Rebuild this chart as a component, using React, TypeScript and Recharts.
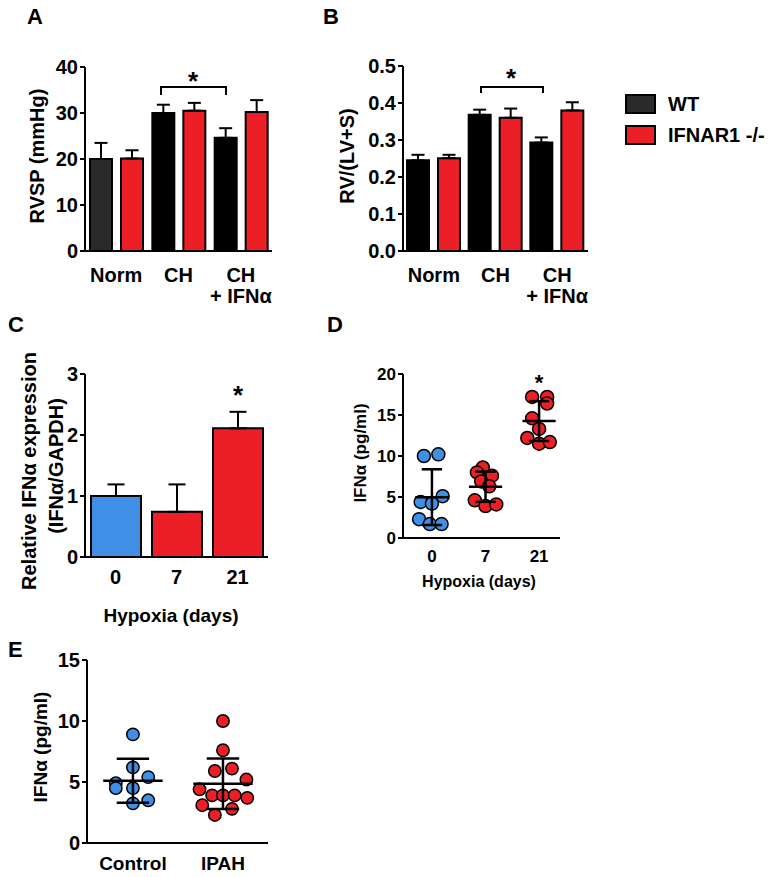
import React from 'react';
import {
  BarChart, Bar, XAxis, YAxis, ErrorBar, Cell,
  ScatterChart, Scatter, ReferenceLine,
} from 'recharts';

const FONT = "'Liberation Sans', Arial, Helvetica, sans-serif";
const RED = '#ec1f26';
const BLUE = '#3f8fe6';
const DARK = '#2a2a2a';

// A: RVSP (mmHg)
const groups = ['Norm', 'CH', 'CH\n+ IFNα'];
const rvspWT = [20.0, 30.0, 24.6];
const rvspWTsem = [3.5, 1.8, 2.1];
const rvspKO = [20.1, 30.5, 30.2];
const rvspKOsem = [1.8, 1.7, 2.6];

// B: RV/(LV+S)
const rvWT = [0.245, 0.368, 0.293];
const rvWTsem = [0.015, 0.014, 0.014];
const rvKO = [0.251, 0.36, 0.38];
const rvKOsem = [0.009, 0.025, 0.022];

// C: relative IFNa expression
const days = ['0', '7', '21'];
const ifnExpr = [1.0, 0.74, 2.11];
const ifnExprSem = [0.19, 0.45, 0.27];

// D: IFNa (pg/ml) by hypoxia day
const d0Vals = [10.0, 10.2, 5.1, 4.4, 4.2, 2.3, 1.7, 1.7];
const d0Jit = [-0.15, 0.12, 0.2, -0.21, 0.0, -0.24, -0.04, 0.18];
const d7Vals = [8.6, 8.0, 7.6, 6.9, 6.3, 4.6, 3.9, 4.1];
const d7Jit = [-0.05, -0.16, 0.12, -0.08, 0.07, -0.2, 0.0, 0.2];
const d21Vals = [17.2, 17.2, 16.4, 14.6, 13.3, 12.2, 11.5, 11.7];
const d21Jit = [-0.13, 0.15, 0.15, -0.13, 0.0, -0.22, 0.0, 0.2];
const dMean = [4.98, 6.25, 14.26];
const dSd = [3.4, 1.84, 2.43];

// E: IFNa (pg/ml) control vs IPAH
const eGroups = ['Control', 'IPAH'];
const ctrlVals = [8.9, 6.2, 5.4, 4.9, 4.5, 4.5, 3.5, 3.25];
const ctrlJit = [0, 0, 0.17, -0.19, -0.19, 0, 0.17, 0];
const ipahVals = [10.0, 7.6, 5.9, 6.1, 5.2, 4.4, 3.9, 3.9, 3.9, 3.7, 3.1, 2.3, 2.8];
const ipahJit = [0, 0, -0.09, 0.1, 0.26, -0.26, -0.12, 0, 0.13, 0.27, -0.23, -0.09, 0.1];
const eMean = [5.1, 4.85];
const eSd = [1.8, 2.07];

const rvspData = groups.map((g, i) => ({
  cat: g, wt: rvspWT[i], wtErr: [0, rvspWTsem[i]], ko: rvspKO[i], koErr: [0, rvspKOsem[i]],
}));
const rvData = groups.map((g, i) => ({
  cat: g, wt: rvWT[i], wtErr: [0, rvWTsem[i]], ko: rvKO[i], koErr: [0, rvKOsem[i]],
}));
const exprData = days.map((d, i) => ({ day: d, v: ifnExpr[i], err: [0, ifnExprSem[i]] }));

const pts = (vals: number[], jit: number[], cx: number) =>
  vals.map((v, i) => ({ x: cx + jit[i], y: v }));

const axisLine = { stroke: '#000', strokeWidth: 2 };
const tickStyle = (size: number) => ({ fill: '#000', fontSize: size, fontWeight: 700, fontFamily: FONT });

function CatTick(props: any) {
  const { x, y, payload, size = 20, dy = 30, lh = 19, labels } = props;
  const raw = labels ? labels[payload.value] : payload.value;
  const lines = String(raw).split('\n');
  return (
    <text x={x} y={y} textAnchor="middle" fontFamily={FONT} fontSize={size} fontWeight={700} fill="#000">
      {lines.map((l: string, i: number) => (
        <tspan key={i} x={x} dy={i === 0 ? dy : lh}>{l}</tspan>
      ))}
    </text>
  );
}

function Dot(props: any) {
  const { cx, cy, fill, r } = props;
  return <circle cx={cx} cy={cy} r={r} fill={fill} stroke="#000" strokeWidth={1.5} />;
}

// mean line, SD whisker and caps for one scatter column
function stats(key: string, cx: number, mean: number, sd: number, half: number, cap: number) {
  const s = { stroke: '#000', strokeWidth: 2.5, zIndex: 700 } as any;
  return [
    <ReferenceLine key={key + 'm'} segment={[{ x: cx - half, y: mean }, { x: cx + half, y: mean }]} {...s} />,
    <ReferenceLine key={key + 'v'} segment={[{ x: cx, y: mean - sd }, { x: cx, y: mean + sd }]} {...s} />,
    <ReferenceLine key={key + 'h'} segment={[{ x: cx - cap, y: mean + sd }, { x: cx + cap, y: mean + sd }]} {...s} />,
    <ReferenceLine key={key + 'l'} segment={[{ x: cx - cap, y: mean - sd }, { x: cx + cap, y: mean - sd }]} {...s} />,
  ];
}

function VTitle({ x, y, size, children }: any) {
  return (
    <div style={{
      position: 'absolute', left: x, top: y, transform: 'translate(-50%,-50%) rotate(-90deg)',
      whiteSpace: 'nowrap', fontSize: size, lineHeight: 1,
    }}>{children}</div>
  );
}

function HText({ x, y, size, children }: any) {
  return (
    <div style={{
      position: 'absolute', left: x, top: y, transform: 'translate(-50%,-50%)',
      whiteSpace: 'nowrap', fontSize: size, lineHeight: 1,
    }}>{children}</div>
  );
}

function GroupedBars({ data, domain, ticks, fmt, yWidth, right, top, firstDark }: any) {
  return (
    <BarChart width={300} height={320} data={data} margin={{ top, right, bottom: 0, left: 0 }} barSize={22} barGap={9}>
      <XAxis dataKey="cat" height={69} axisLine={axisLine} tickLine={false} tickSize={0} tickMargin={0}
        interval={0} tick={(p: any) => <CatTick {...p} dy={31} lh={21} />} />
      <YAxis width={yWidth} domain={domain} ticks={ticks} tickFormatter={fmt} interval={0}
        axisLine={axisLine} tickLine={axisLine} tickSize={5} tickMargin={2} tick={tickStyle(20)} />
      <Bar dataKey="wt" fill="#000" stroke="#000" strokeWidth={2} isAnimationActive={false}>
        {data.map((_: any, i: number) => <Cell key={i} fill={firstDark && i === 0 ? DARK : '#000'} />)}
        <ErrorBar dataKey="wtErr" direction="y" width={6.5} stroke="#000" strokeWidth={2} />
      </Bar>
      <Bar dataKey="ko" fill={RED} stroke="#000" strokeWidth={2} isAnimationActive={false}>
        <ErrorBar dataKey="koErr" direction="y" width={6.5} stroke="#000" strokeWidth={2} />
      </Bar>
    </BarChart>
  );
}

export default function App() {
  return (
    <div style={{
      position: 'relative', width: 772, height: 877, overflow: 'hidden', background: '#fff',
      fontFamily: FONT, fontWeight: 700, color: '#000',
    }}>
      <style>{'body{margin:0}'}</style>

      {/* A */}
      <div style={{ position: 'absolute', left: 0, top: 0 }}>
        <GroupedBars data={rvspData} domain={[0, 40]} ticks={[0, 10, 20, 30, 40]} yWidth={85}
          right={28} top={67} firstDark />
      </div>
      {/* B */}
      <div style={{ position: 'absolute', left: 300, top: 0 }}>
        <GroupedBars data={rvData} domain={[0, 0.5]} ticks={[0, 0.1, 0.2, 0.3, 0.4, 0.5]}
          fmt={(v: number) => v.toFixed(1)} yWidth={103} right={12} top={66} />
      </div>

      {/* C */}
      <div style={{ position: 'absolute', left: 0, top: 300 }}>
        <BarChart width={290} height={330} data={exprData} margin={{ top: 74, right: 22, bottom: 0, left: 0 }} barSize={50}>
          <XAxis dataKey="day" height={73} axisLine={axisLine} tickLine={false} tickSize={0} tickMargin={0}
            interval={0} tick={(p: any) => <CatTick {...p} dy={27} />} />
          <YAxis width={85} domain={[0, 3]} ticks={[0, 1, 2, 3]} interval={0}
            axisLine={axisLine} tickLine={axisLine} tickSize={5} tickMargin={2} tick={tickStyle(20)} />
          <Bar dataKey="v" stroke="#000" strokeWidth={2} isAnimationActive={false}>
            {exprData.map((_, i) => <Cell key={i} fill={i === 0 ? BLUE : RED} />)}
            <ErrorBar dataKey="err" direction="y" width={8.5} stroke="#000" strokeWidth={2} />
          </Bar>
        </BarChart>
      </div>

      {/* D */}
      <div style={{ position: 'absolute', left: 300, top: 300 }}>
        <ScatterChart width={280} height={300} margin={{ top: 74, right: 20, bottom: 0, left: 0 }}>
          <XAxis type="number" dataKey="x" domain={[-0.54, 2.39]} ticks={[0, 1, 2]} height={62}
            axisLine={axisLine} tickLine={false} tickSize={0} tickMargin={0} interval={0}
            tick={(p: any) => <CatTick {...p} labels={days} size={17} dy={24} />} />
          <YAxis type="number" dataKey="y" width={103} domain={[0, 20]} ticks={[0, 5, 10, 15, 20]} interval={0}
            axisLine={axisLine} tickLine={axisLine} tickSize={5} tickMargin={2} tick={tickStyle(17)} />
          <Scatter data={pts(d0Vals, d0Jit, 0)} fill={BLUE} isAnimationActive={false}
            shape={(p: any) => <Dot {...p} r={6.5} fill={BLUE} />} />
          <Scatter data={pts(d7Vals, d7Jit, 1)} fill={RED} isAnimationActive={false}
            shape={(p: any) => <Dot {...p} r={6.5} fill={RED} />} />
          <Scatter data={pts(d21Vals, d21Jit, 2)} fill={RED} isAnimationActive={false}
            shape={(p: any) => <Dot {...p} r={6.5} fill={RED} />} />
          {dMean.map((m, i) => stats('d' + i, i, m, dSd[i], 0.31, 0.19))}
        </ScatterChart>
      </div>

      {/* E */}
      <div style={{ position: 'absolute', left: 0, top: 630 }}>
        <ScatterChart width={290} height={247} margin={{ top: 30, right: 22, bottom: 0, left: 0 }}>
          <XAxis type="number" dataKey="x" domain={[-0.51, 1.5]} ticks={[0, 1]} height={34}
            axisLine={axisLine} tickLine={false} tickSize={0} tickMargin={0} interval={0}
            tick={(p: any) => <CatTick {...p} labels={eGroups} size={19} dy={27} />} />
          <YAxis type="number" dataKey="y" width={87} domain={[0, 15]} ticks={[0, 5, 10, 15]} interval={0}
            axisLine={axisLine} tickLine={axisLine} tickSize={5} tickMargin={2} tick={tickStyle(20)} />
          <Scatter data={pts(ctrlVals, ctrlJit, 0)} fill={BLUE} isAnimationActive={false}
            shape={(p: any) => <Dot {...p} r={6.2} fill={BLUE} />} />
          <Scatter data={pts(ipahVals, ipahJit, 1)} fill={RED} isAnimationActive={false}
            shape={(p: any) => <Dot {...p} r={6.2} fill={RED} />} />
          {eMean.map((m, i) => stats('e' + i, i, m, eSd[i], 0.33, 0.18))}
        </ScatterChart>
      </div>

      {/* panel letters */}
      <div style={{ position: 'absolute', left: 27, top: 4, fontSize: 22 }}>A</div>
      <div style={{ position: 'absolute', left: 323, top: 4, fontSize: 22 }}>B</div>
      <div style={{ position: 'absolute', left: 8, top: 312, fontSize: 22 }}>C</div>
      <div style={{ position: 'absolute', left: 327, top: 312, fontSize: 22 }}>D</div>
      <div style={{ position: 'absolute', left: 8, top: 637, fontSize: 22 }}>E</div>

      {/* axis titles */}
      <VTitle x={37} y={156} size={20}>RVSP (mmHg)</VTitle>
      <VTitle x={347} y={156} size={20}>RV/(LV+S)</VTitle>
      <VTitle x={29} y={471} size={20}>Relative IFNα expression</VTitle>
      <VTitle x={56} y={466} size={20}>(IFNα/GAPDH)</VTitle>
      <VTitle x={360} y={453} size={17}>IFNα (pg/ml)</VTitle>
      <VTitle x={40} y={747} size={19}>IFNα (pg/ml)</VTitle>
      <HText x={171} y={615} size={19}>Hypoxia (days)</HText>
      <HText x={479} y={582} size={16}>Hypoxia (days)</HText>

      {/* legend */}
      <div style={{ position: 'absolute', left: 625, top: 94, width: 31, height: 20, background: DARK, border: '2px solid #000', boxSizing: 'border-box' }} />
      <div style={{ position: 'absolute', left: 625, top: 125, width: 31, height: 20, background: RED, border: '2px solid #000', boxSizing: 'border-box' }} />
      <div style={{ position: 'absolute', left: 668, top: 93, fontSize: 20, lineHeight: '22px' }}>WT</div>
      <div style={{ position: 'absolute', left: 668, top: 124, fontSize: 20, lineHeight: '22px' }}>IFNAR1 -/-</div>

      {/* significance marks */}
      <svg width={772} height={877} style={{ position: 'absolute', left: 0, top: 0, pointerEvents: 'none' }}>
        <path d="M161 95 V87 H226 V95" fill="none" stroke="#000" strokeWidth={2} />
        <path d="M481 93 V87 H543 V93" fill="none" stroke="#000" strokeWidth={2} />
        <g fontFamily={FONT} fontWeight={700} textAnchor="middle" fill="#000">
          <text x={193} y={90} fontSize={26}>*</text>
          <text x={511} y={87} fontSize={26}>*</text>
          <text x={238} y={404} fontSize={26}>*</text>
          <text x={539} y={390} fontSize={22}>*</text>
        </g>
      </svg>
    </div>
  );
}
